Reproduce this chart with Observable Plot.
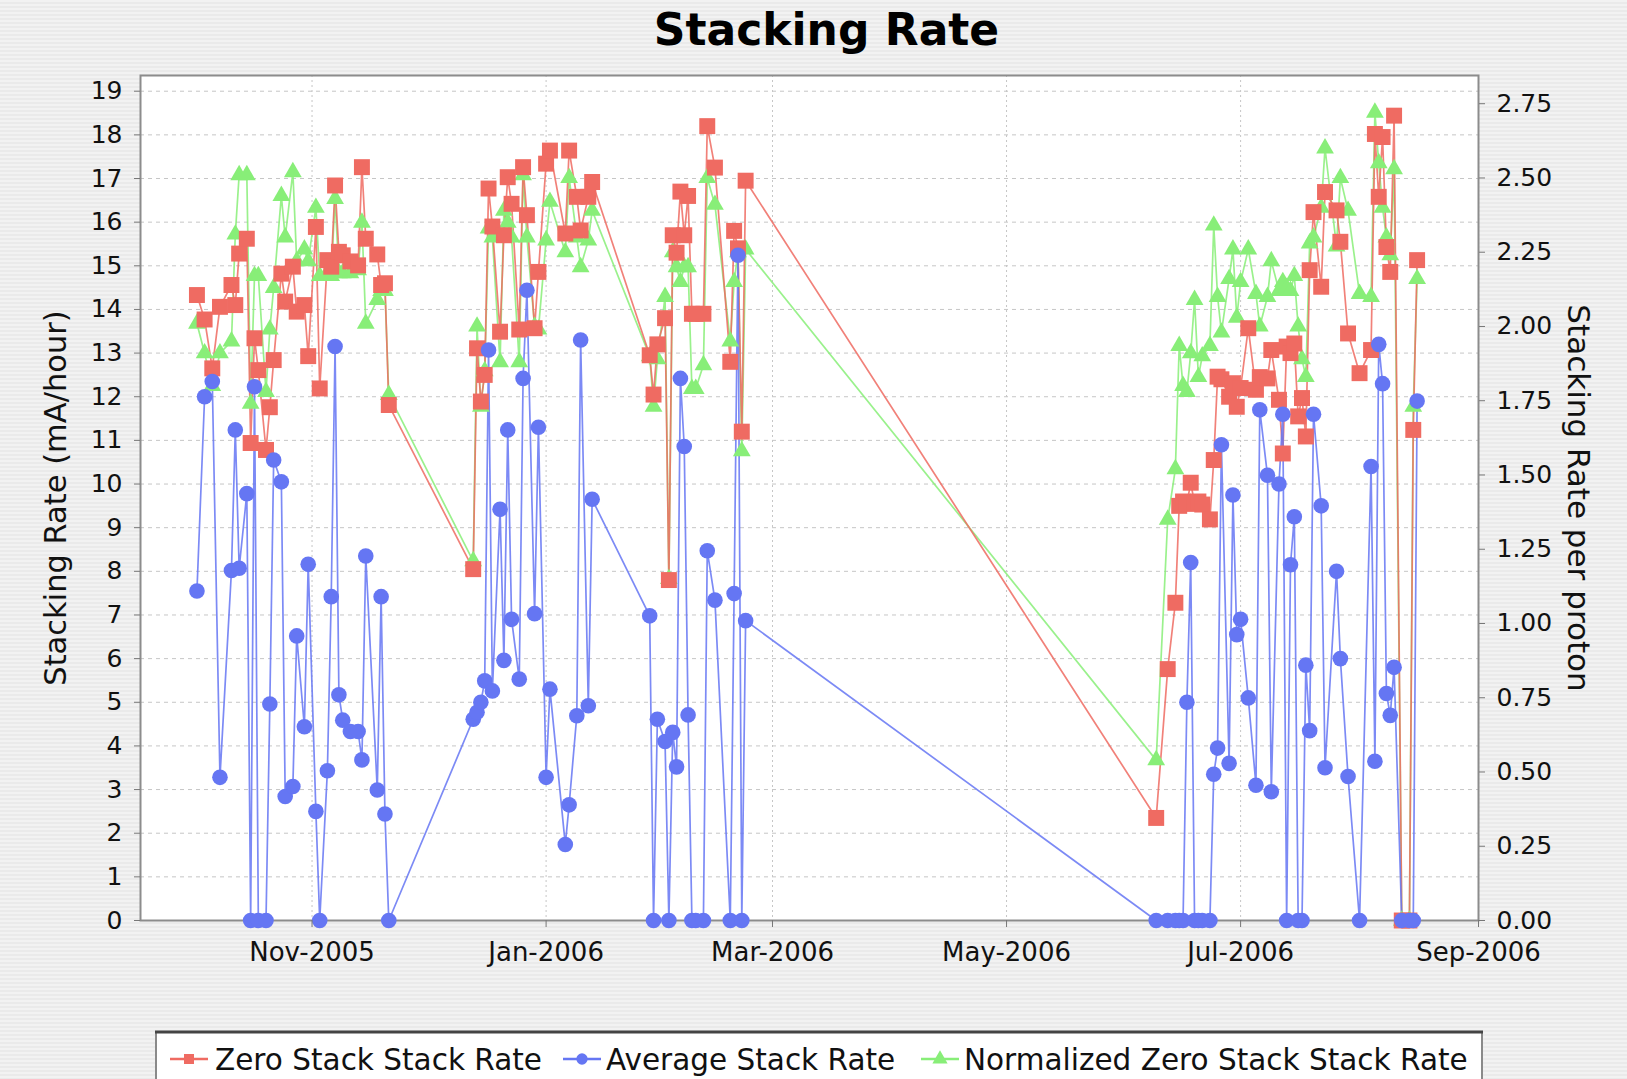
<!DOCTYPE html>
<html>
<head>
<meta charset="utf-8">
<script src="https://cdn.jsdelivr.net/npm/d3@7"></script>
<script src="https://cdn.jsdelivr.net/npm/@observablehq/plot@0.6"></script>
<style>
  html, body { margin: 0; padding: 0; }
  #page {
    position: relative; width: 1627px; height: 1079px; overflow: hidden;
    background: repeating-linear-gradient(to bottom, #f2f2f2 0px, #f2f2f2 2px, #eaeaea 2px, #eaeaea 4px);
    font-family: "DejaVu Sans", sans-serif;
  }
  #title {
    position: absolute; left: 13px; top: 8px; width: 1627px; text-align: center;
    font-family: "DejaVu Sans", sans-serif; font-weight: bold; font-size: 44px; line-height: 44px; color: #000;
  }
  #chart { position: absolute; left: 0; top: 0; }
  #legend { position: absolute; left: 0; top: 0; }
</style>
</head>
<body>
<div id="page">
  <div id="chart"></div>
  <div id="title">Stacking Rate</div>
  <svg id="legend" width="1627" height="1079"></svg>
</div>
<script>
// ---- data ----
const dates = [
  "2005-10-02","2005-10-04","2005-10-06","2005-10-08","2005-10-11","2005-10-12","2005-10-13","2005-10-15","2005-10-16","2005-10-17",
  "2005-10-18","2005-10-20","2005-10-21","2005-10-22","2005-10-24","2005-10-25","2005-10-27","2005-10-28","2005-10-30","2005-10-31",
  "2005-11-02","2005-11-03","2005-11-05","2005-11-06","2005-11-07","2005-11-08","2005-11-09","2005-11-11","2005-11-13","2005-11-14",
  "2005-11-15","2005-11-18","2005-11-19","2005-11-20","2005-11-21",
  "2005-12-13","2005-12-14","2005-12-15","2005-12-16","2005-12-17","2005-12-18","2005-12-20","2005-12-21","2005-12-22","2005-12-23",
  "2005-12-25","2005-12-26","2005-12-27","2005-12-29","2005-12-30","2006-01-01","2006-01-02","2006-01-06","2006-01-07","2006-01-09",
  "2006-01-10","2006-01-12","2006-01-13",
  "2006-01-28","2006-01-29","2006-01-30","2006-02-01","2006-02-02","2006-02-03","2006-02-04","2006-02-05","2006-02-06","2006-02-07",
  "2006-02-08","2006-02-09","2006-02-11","2006-02-12","2006-02-14","2006-02-18","2006-02-19","2006-02-20","2006-02-21","2006-02-22",
  "2006-06-09",
  "2006-06-12","2006-06-14","2006-06-15","2006-06-16","2006-06-17","2006-06-18","2006-06-19","2006-06-20","2006-06-21","2006-06-23",
  "2006-06-24","2006-06-25","2006-06-26","2006-06-28","2006-06-29","2006-06-30","2006-07-01","2006-07-03","2006-07-05","2006-07-06",
  "2006-07-08","2006-07-09","2006-07-11","2006-07-12","2006-07-13","2006-07-14","2006-07-15","2006-07-16","2006-07-17","2006-07-18",
  "2006-07-19","2006-07-20","2006-07-22","2006-07-23","2006-07-26","2006-07-27","2006-07-29","2006-08-01","2006-08-04","2006-08-05",
  "2006-08-06","2006-08-07","2006-08-08","2006-08-09","2006-08-10","2006-08-12","2006-08-14","2006-08-15","2006-08-16"
];
// Zero Stack Stack Rate (mA/hour, left axis)
const zeroStack = [
  14.33,13.77,12.65,14.06,14.56,14.10,15.28,15.62,10.94,13.34,
  12.61,10.78,11.76,12.84,14.82,14.18,14.98,13.95,14.10,12.93,
  15.89,12.19,15.13,14.98,16.84,15.32,15.24,15.10,15.01,17.26,
  15.62,15.26,14.56,14.60,11.81,
  8.05,13.11,11.89,12.50,16.77,15.90,13.49,15.70,17.03,16.42,
  13.54,17.26,16.16,13.57,14.86,17.34,17.64,15.74,17.64,16.58,
  15.81,16.58,16.92,
  12.95,12.05,13.20,13.80,7.80,15.70,15.30,16.70,15.70,16.60,
  13.90,13.90,13.90,18.20,17.25,12.80,15.80,15.40,11.20,16.95,
  2.35,
  5.76,7.28,9.50,9.60,9.55,10.03,9.55,9.60,9.53,9.19,
  10.55,12.46,12.40,12.00,12.31,11.77,12.20,13.57,12.16,12.45,
  12.42,13.07,11.93,10.70,13.15,13.00,13.22,11.55,11.97,11.09,
  14.90,16.23,14.52,16.69,16.27,15.55,13.45,12.54,13.07,18.02,
  16.58,17.95,15.43,14.86,18.44,0,0,11.24,15.13
];
// Average Stack Rate (mA/hour, left axis)
const avgStack = [
  7.55,12.00,12.35,3.28,8.02,11.24,8.07,9.78,0,12.23,
  0,0,4.96,10.55,10.05,2.84,3.07,6.52,4.44,8.16,
  2.50,0,3.43,7.42,13.15,5.17,4.59,4.33,4.33,3.68,
  8.35,2.99,7.42,2.44,0,
  4.61,4.77,5.00,5.49,13.07,5.26,9.42,5.96,11.24,6.90,
  5.53,12.42,14.44,7.03,11.30,3.28,5.30,1.74,2.65,4.69,
  13.30,4.92,9.65,
  6.98,0,4.61,4.10,0,4.31,3.52,12.42,10.86,4.71,
  0,0,0,8.47,7.34,0,7.49,15.24,0,6.87,
  0,
  0,0,0,0,5.00,8.20,0,0,0,0,
  3.35,3.95,10.90,3.60,9.75,6.55,6.90,5.10,3.10,11.70,
  10.20,2.95,10.00,11.60,0,8.15,9.25,0,0,5.85,
  4.35,11.60,9.50,3.50,8.00,6.00,3.30,0,10.40,3.65,
  13.20,12.30,5.20,4.70,5.80,0,0,0,11.90
];
// Normalized Zero Stack Stack Rate (per proton, right axis)
const normZero = [
  2.01,1.91,1.80,1.91,1.95,2.31,2.51,2.51,1.74,2.17,
  2.17,1.78,1.99,2.13,2.44,2.30,2.52,2.22,2.26,2.22,
  2.40,2.17,2.18,2.17,2.43,2.18,2.18,2.18,2.19,2.35,
  2.01,2.09,2.12,2.12,1.77,
  1.21,2.00,1.73,1.85,2.33,2.30,1.88,2.39,2.35,2.30,
  1.88,2.51,2.30,2.00,1.99,2.29,2.42,2.25,2.50,2.30,
  2.20,2.29,2.39,
  1.90,1.73,1.89,2.10,1.15,2.25,2.20,2.15,2.20,2.20,
  1.79,1.79,1.87,2.50,2.41,1.95,2.15,2.25,1.58,2.26,
  0.54,
  1.35,1.52,1.935,1.80,1.78,1.91,2.09,1.83,1.90,1.935,
  2.34,2.10,1.98,2.16,2.26,2.03,2.15,2.26,2.11,2.00,
  2.10,2.22,2.12,2.15,2.13,2.12,2.17,2.00,1.89,1.83,
  2.28,2.30,2.40,2.60,2.27,2.50,2.39,2.11,2.10,2.72,
  2.55,2.40,2.30,2.24,2.53,0,0,1.73,2.16
];
const leftTicks = [0,1,2,3,4,5,6,7,8,9,10,11,12,13,14,15,16,17,18,19];
const rightTicks = [0,0.25,0.5,0.75,1.0,1.25,1.5,1.75,2.0,2.25,2.5,2.75];
const monthTicks = ["2005-11-01","2006-01-01","2006-03-01","2006-05-01","2006-07-01","2006-09-01"];
const seriesNames = ["Zero Stack Stack Rate","Average Stack Rate","Normalized Zero Stack Stack Rate"];
const leftLabel = "Stacking Rate (mA/hour)";
const rightLabel = "Stacking Rate per proton";

// ---- chart ----
const RED = "#ef6b62", BLUE = "#6576f3", GREEN = "#88ee78";
const yTop = 19.36, rTop = 2.845, k = yTop / rTop;
const rows = dates.map((d, i) => ({date: new Date(d), zero: zeroStack[i], avg: avgStack[i], norm: normZero[i]}));
const mTicks = monthTicks.map(d => new Date(d));

const chart = Plot.plot({
  width: 1627, height: 1000,
  marginLeft: 140, marginRight: 149, marginTop: 75, marginBottom: 80,
  style: {background: "transparent", fontFamily: "DejaVu Sans, sans-serif", color: "#111", overflow: "visible"},
  x: {type: "utc", domain: [new Date(Date.UTC(2005, 8, 17, 7)), new Date(Date.UTC(2006, 8, 1))]},
  y: {domain: [0, yTop]},
  marks: [
    Plot.frame({fill: "white", stroke: null}),
    Plot.gridY(leftTicks, {stroke: "#c6c6c6", strokeOpacity: 1, strokeDasharray: "4,4"}),
    Plot.gridX(mTicks, {stroke: "#c6c6c6", strokeOpacity: 1, strokeDasharray: "2,3"}),
    Plot.frame({stroke: "#8c8c8c", strokeWidth: 2}),
    Plot.line(rows, {x: "date", y: d => d.norm * k, stroke: GREEN, strokeWidth: 1.7, strokeOpacity: 0.85}),
    Plot.line(rows, {x: "date", y: "zero", stroke: RED, strokeWidth: 1.7, strokeOpacity: 0.85}),
    Plot.line(rows, {x: "date", y: "avg", stroke: BLUE, strokeWidth: 1.7, strokeOpacity: 0.85}),
    Plot.dot(rows, {x: "date", y: d => d.norm * k, symbol: "triangle", r: 6.6, fill: GREEN, stroke: null}),
    Plot.dot(rows, {x: "date", y: "zero", symbol: "square", r: 9, fill: RED, stroke: null}),
    Plot.dot(rows, {x: "date", y: "avg", symbol: "circle", r: 7.8, fill: BLUE, stroke: null}),
    Plot.axisY(leftTicks, {anchor: "left", tickSize: 6, tickPadding: 12, fontSize: 25, stroke: "#777", label: null}),
    Plot.axisY(rightTicks, {anchor: "right", y: d => d * k, text: d => d.toFixed(2), tickSize: 6, tickPadding: 12, fontSize: 25, stroke: "#777", label: null}),
    Plot.axisX(mTicks, {anchor: "bottom", tickFormat: d3.utcFormat("%b-%Y"), tickSize: 7, tickPadding: 15, fontSize: 26, stroke: "#777", label: null}),
    Plot.text([leftLabel], {frameAnchor: "left", dx: -84, rotate: -90, fontSize: 30.5, textAnchor: "middle", lineAnchor: "middle", fill: "#111"}),
    Plot.text([rightLabel], {frameAnchor: "right", dx: 99, rotate: 90, fontSize: 31, textAnchor: "middle", lineAnchor: "middle", fill: "#111"})
  ]
});
document.getElementById("chart").appendChild(chart);

// ---- legend ----
const lg = d3.select("#legend");
lg.append("rect").attr("x", 156).attr("y", 1032).attr("width", 1326).attr("height", 60)
  .attr("fill", "white").attr("stroke", "#8a8a8a").attr("stroke-width", 2);
lg.append("line").attr("x1", 155).attr("x2", 1483).attr("y1", 1032).attr("y2", 1032).attr("stroke", "#444").attr("stroke-width", 3);
const items = [
  {name: seriesNames[0], color: RED, sym: "square", sx: 170, tx: 215},
  {name: seriesNames[1], color: BLUE, sym: "circle", sx: 563, tx: 606},
  {name: seriesNames[2], color: GREEN, sym: "triangle", sx: 921, tx: 964}
];
const symMap = {square: d3.symbolSquare, circle: d3.symbolCircle, triangle: d3.symbolTriangle};
items.forEach(it => {
  const cy = 1059;
  lg.append("line").attr("x1", it.sx).attr("x2", it.sx + 38).attr("y1", cy).attr("y2", cy)
    .attr("stroke", it.color).attr("stroke-width", 2.5);
  lg.append("path").attr("d", d3.symbol(symMap[it.sym], 100)())
    .attr("transform", `translate(${it.sx + 19},${cy})`).attr("fill", it.color);
  lg.append("text").attr("x", it.tx).attr("y", 1070).text(it.name)
    .attr("font-family", "DejaVu Sans, sans-serif").attr("font-size", 29.5).attr("fill", "#111");
});
</script>
</body>
</html>
